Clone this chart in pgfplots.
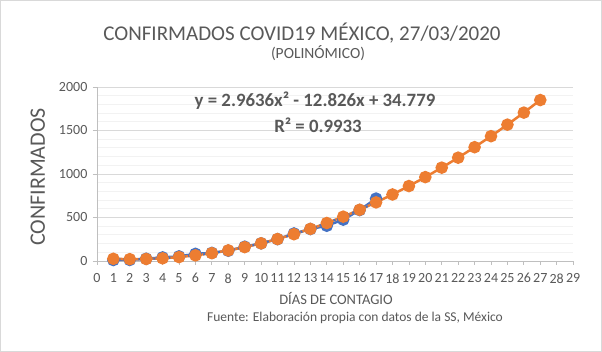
\documentclass[border=0pt]{standalone}
\usepackage{fontspec}
\setmainfont{Carlito}
\usepackage{pgfplots}
\pgfplotsset{compat=1.18}
\definecolor{txt}{HTML}{595959}
\definecolor{blueS}{HTML}{4472C4}
\definecolor{orangeS}{HTML}{ED7D31}
\definecolor{axisgray}{HTML}{BFBFBF}
\definecolor{majgrid}{HTML}{D9D9D9}
\definecolor{mingrid}{HTML}{F2F2F2}
\begin{document}
\begin{tikzpicture}[x=1pt,y=1pt]
\path[draw=majgrid,line width=0.75pt,fill=white] (0.5,0.5) rectangle (601.5,351.5);
\begin{axis}[
  at={(97pt,91pt)}, anchor=south west,
  scale only axis, width=476pt, height=174pt,
  xmin=0, xmax=29, ymin=0, ymax=2000,
  xtick={0,1,...,29}, ytick={0,500,...,2000},
  minor y tick num=4,
  ymajorgrids, yminorgrids,
  major grid style={majgrid, line width=0.8pt},
  minor grid style={mingrid, line width=0.8pt},
  axis lines=left,
  axis line style={axisgray, line width=0.8pt, -},
  tick align=outside,
  major tick length=4pt, minor tick length=0pt,
  tick style={axisgray, line width=0.8pt},
  tick label style={font=\fontsize{14}{14}\selectfont, text=txt},
  xticklabel style={yshift=-5pt},
  yticklabel style={xshift=-2pt},
  /pgf/number format/assume math mode=true,
  /pgf/number format/1000 sep={},
  clip=false,
]
\addplot[blueS, line width=2.5pt, mark=*, mark size=5pt,
  mark options={fill=blueS, draw=blueS}] coordinates {
(1,11) (2,12) (3,26) (4,41) (5,53) (6,82) (7,93) (8,118) (9,164) (10,203)
(11,251) (12,316) (13,367) (14,405) (15,475) (16,585) (17,717)};
\addplot[orangeS, line width=2.5pt, mark=*, mark size=5pt,
  mark options={fill=orangeS, draw=orangeS}] coordinates {
(1,24.92) (2,20.98) (3,22.97) (4,30.89) (5,44.74) (6,64.51) (7,90.21)
(8,121.84) (9,159.40) (10,202.88) (11,252.29) (12,307.63) (13,368.89)
(14,436.08) (15,509.20) (16,588.24) (17,673.22) (18,764.12) (19,860.94)
(20,963.70) (21,1072.38) (22,1186.99) (23,1307.53) (24,1433.99)
(25,1566.38) (26,1704.70) (27,1848.94)};
\addplot[blueS, line width=2pt, dash pattern=on 2pt off 3pt, smooth] coordinates {
(1,24.92) (2,20.98) (3,22.97) (4,30.89) (5,44.74) (6,64.51) (7,90.21)
(8,121.84) (9,159.40) (10,202.88) (11,252.29) (12,307.63) (13,368.89)
(14,436.08) (15,509.20) (16,588.24) (17,673.22)};
\end{axis}
\node[text=txt, font=\fontsize{21}{21}\selectfont] at (302,319) {CONFIRMADOS COVID19 MÉXICO, 27/03/2020};
\node[text=txt, font=\fontsize{15.5}{15.5}\selectfont] at (318,299) {(POLINÓMICO)};
\node[text=txt, font=\fontsize{18.8}{18.8}\selectfont\bfseries] at (315,251) {y = 2.9636x² - 12.826x + 34.779};
\node[text=txt, font=\fontsize{18.8}{18.8}\selectfont\bfseries] at (318,227) {R² = 0.9933};
\node[text=txt, font=\fontsize{22}{22}\selectfont, rotate=90] at (38,175) {CONFIRMADOS};
\node[text=txt, font=\fontsize{14.5}{14.5}\selectfont] at (336,54) {DÍAS DE CONTAGIO};
\node[text=txt, font=\fontsize{13.5}{13.5}\selectfont] at (355,34) {Fuente: Elaboración propia con datos de la SS, México};
\end{tikzpicture}
\end{document}
